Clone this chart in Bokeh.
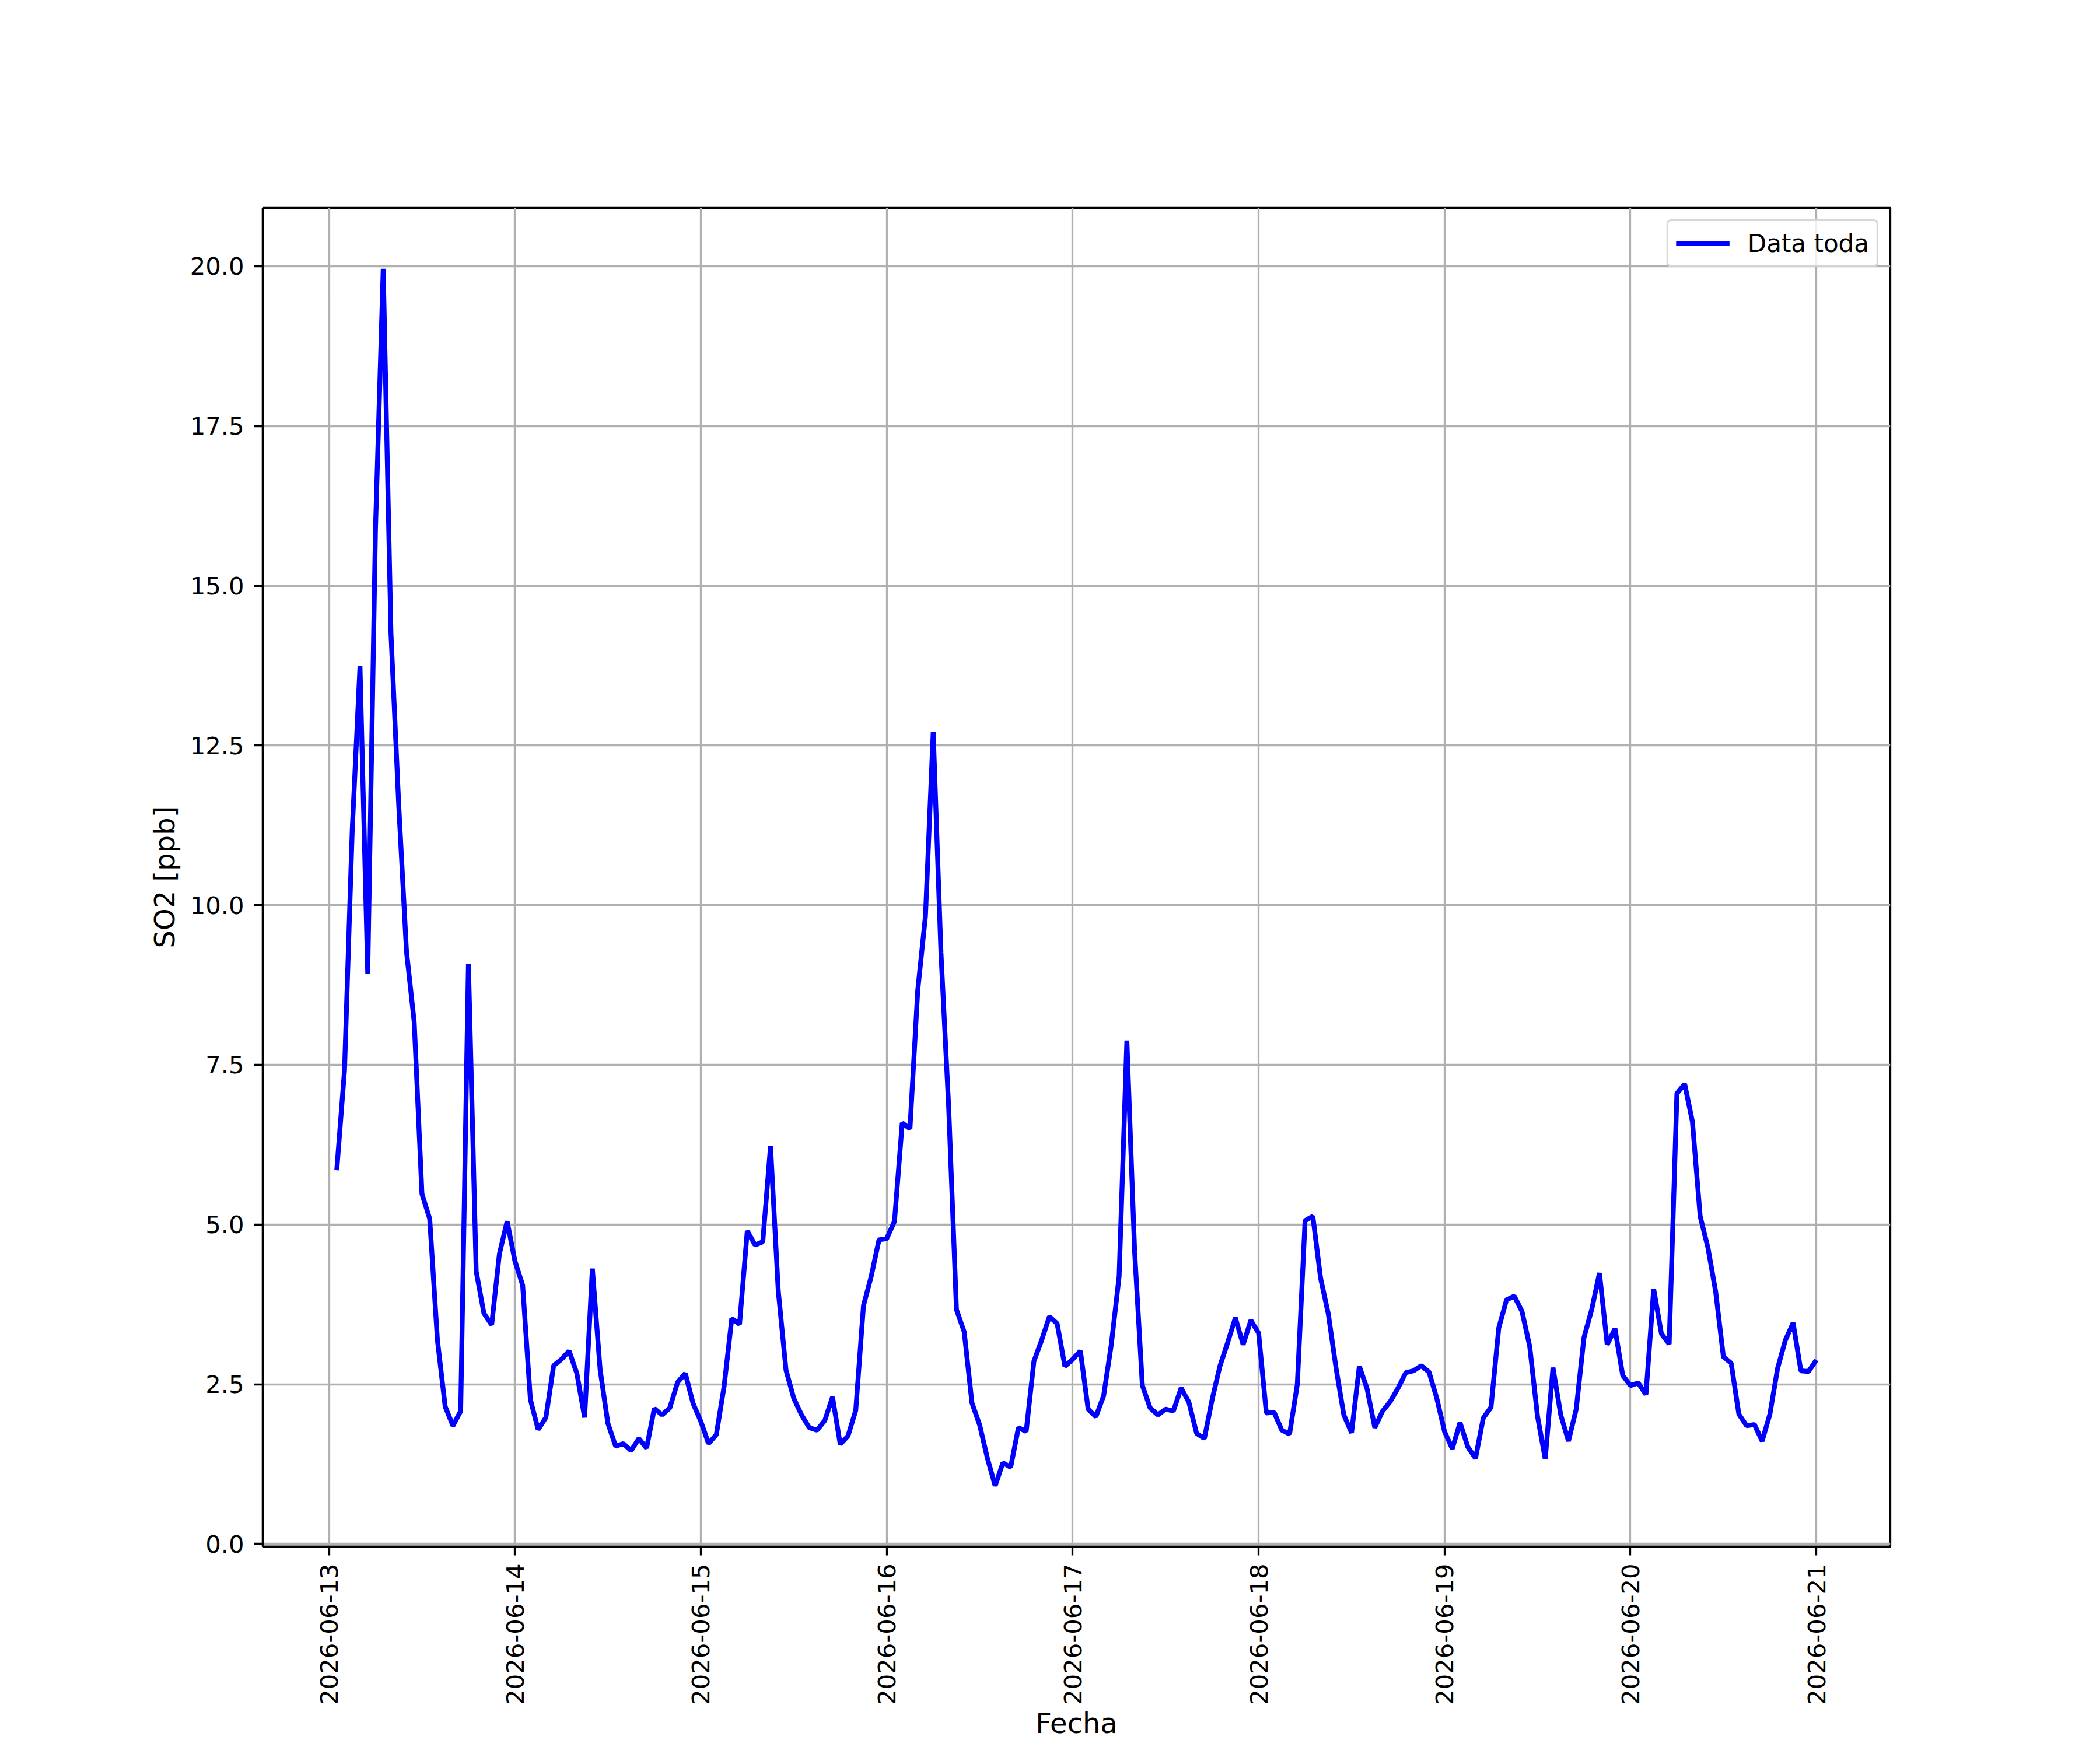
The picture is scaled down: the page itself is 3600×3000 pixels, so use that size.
import pandas as pd
from math import pi
from bokeh.plotting import figure
from bokeh.models import (Range1d, FixedTicker, PrintfTickFormatter, DatetimeTickFormatter,
                          Legend, LegendItem)
from bokeh.embed import file_html
from bokeh.resources import INLINE

# ---------------- data (hourly SO2, ppb) ----------------
start_time = "2026-06-13 01:00"
so2_0613 = [5.85, 7.41, 11.18, 13.74, 8.93, 15.89, 19.96, 14.25, 11.57, 9.28, 8.17, 5.48,
            5.09, 3.19, 2.15, 1.85, 2.08, 9.08, 4.27, 3.61, 3.43, 4.54, 5.05]
so2_0614 = [4.43, 4.05, 2.26, 1.79, 1.98, 2.79, 2.89, 3.02, 2.67, 1.98, 4.31, 2.73,
            1.89, 1.53, 1.57, 1.46, 1.65, 1.50, 2.12, 2.02, 2.13, 2.53, 2.67, 2.20]
so2_0615 = [1.92, 1.57, 1.71, 2.46, 3.53, 3.44, 4.90, 4.68, 4.73, 6.23, 3.96, 2.72,
            2.28, 2.02, 1.82, 1.78, 1.93, 2.30, 1.56, 1.69, 2.09, 3.73, 4.19, 4.76]
so2_0616 = [4.78, 5.05, 6.59, 6.50, 8.66, 9.83, 12.71, 9.26, 6.83, 3.67, 3.32, 2.21,
            1.86, 1.34, 0.91, 1.27, 1.20, 1.82, 1.76, 2.86, 3.19, 3.56, 3.45, 2.78]
so2_0617 = [2.89, 3.02, 2.11, 1.99, 2.32, 3.13, 4.19, 7.88, 4.58, 2.48, 2.13, 2.02,
            2.11, 2.08, 2.44, 2.22, 1.73, 1.65, 2.26, 2.78, 3.15, 3.54, 3.12, 3.50]
so2_0618 = [3.30, 2.05, 2.06, 1.78, 1.72, 2.50, 5.06, 5.13, 4.16, 3.60, 2.75, 2.02,
            1.74, 2.78, 2.43, 1.82, 2.08, 2.23, 2.44, 2.68, 2.71, 2.79, 2.69, 2.28]
so2_0619 = [1.76, 1.49, 1.90, 1.52, 1.34, 1.97, 2.14, 3.38, 3.82, 3.88, 3.64, 3.09,
            2.00, 1.33, 2.76, 2.02, 1.61, 2.11, 3.23, 3.67, 4.24, 3.12, 3.37, 2.64]
so2_0620 = [2.48, 2.52, 2.34, 3.99, 3.29, 3.13, 7.05, 7.20, 6.61, 5.13, 4.64, 3.95,
            2.93, 2.83, 2.03, 1.85, 1.87, 1.61, 2.03, 2.75, 3.19, 3.46, 2.71, 2.70]
so2_0621 = [2.88]

series_label = "Data toda"
x_label = "Fecha"
y_label = "SO2 [ppb]"
y_ticks = [0.0, 2.5, 5.0, 7.5, 10.0, 12.5, 15.0, 17.5, 20.0]
x_tick_days = ["2026-06-13", "2026-06-14", "2026-06-15", "2026-06-16", "2026-06-17",
               "2026-06-18", "2026-06-19", "2026-06-20", "2026-06-21"]

values = (so2_0613 + so2_0614 + so2_0615 + so2_0616 + so2_0617 + so2_0618 +
          so2_0619 + so2_0620 + so2_0621)
times = pd.date_range(start_time, periods=len(values), freq="h")
t_ms = [t.value / 1e6 for t in times]
tick_ms = [pd.Timestamp(d).value / 1e6 for d in x_tick_days]

# ---------------- layout ----------------
W, H = 3584, 2984
FL, FT = 450, 356
FR, FB = W - 3240, 328

tspan = t_ms[-1] - t_ms[0]
xs, xe = t_ms[0] - 0.05 * tspan, t_ms[-1] + 0.05 * tspan
vmin, vmax = min(values), max(values)
vspan = vmax - vmin
ylo, yhi = vmin - 0.05 * vspan, vmax + 0.05 * vspan

p = figure(width=W, height=H, x_axis_type="datetime", output_backend="svg",
           toolbar_location=None,
           x_range=Range1d(xs, xe), y_range=Range1d(ylo, yhi),
           min_border_left=FL, min_border_right=FR, min_border_top=FT, min_border_bottom=FB)
p.background_fill_color = "white"
p.border_fill_color = "white"
p.outline_line_color = "black"
p.outline_line_width = 3.3
p.outline_line_alpha = 1.0

r = p.line(x=t_ms, y=values, line_color="#0000ff", line_width=8.3)

# axes
xt = FixedTicker(ticks=tick_ms)
yt = FixedTicker(ticks=y_ticks)
p.xaxis.ticker = xt
p.yaxis.ticker = yt
p.xgrid.ticker = xt
p.ygrid.ticker = yt
fmt = "%Y-%m-%d"
p.xaxis.formatter = DatetimeTickFormatter(microseconds=fmt, milliseconds=fmt, seconds=fmt,
                                          minsec=fmt, minutes=fmt, hourmin=fmt, hours=fmt,
                                          days=fmt, months=fmt, years=fmt)
p.yaxis.formatter = PrintfTickFormatter(format="%.1f")
p.xaxis.major_label_orientation = pi / 2

for ax in (p.xaxis, p.yaxis):
    ax.axis_line_color = "black"
    ax.axis_line_width = 3.3
    ax.major_tick_line_color = "black"
    ax.major_tick_line_width = 3.3
    ax.major_tick_out = 15
    ax.major_tick_in = 0
    ax.minor_tick_line_color = None
    ax.major_label_text_font = "DejaVu Sans"
    ax.major_label_text_font_size = "41.7px"
    ax.major_label_text_color = "black"
    ax.axis_label_text_font = "DejaVu Sans"
    ax.axis_label_text_font_size = "48px"
    ax.axis_label_text_font_style = "normal"
    ax.axis_label_text_color = "black"

p.xaxis.major_label_standoff = 14
p.yaxis.major_label_standoff = 17
p.xaxis.axis_label = x_label
p.xaxis.axis_label_standoff = 0
p.yaxis.axis_label = y_label
p.yaxis.axis_label_standoff = 13

for g in (p.xgrid, p.ygrid):
    g.grid_line_color = "#b0b0b0"
    g.grid_line_width = 3.3
    g.grid_line_alpha = 1.0

# legend
legend = Legend(items=[LegendItem(label=series_label, renderers=[r])], location="top_right")
legend.margin = 20
legend.padding = 13
legend.spacing = 0
legend.glyph_width = 92
legend.glyph_height = 50
legend.label_standoff = 31
legend.label_text_font = "DejaVu Sans"
legend.label_text_font_size = "42px"
legend.label_text_color = "black"
legend.border_line_color = "#cccccc"
legend.border_line_width = 3.3
legend.border_line_alpha = 0.8
legend.background_fill_color = "white"
legend.background_fill_alpha = 0.8
try:
    legend.border_radius = 8
except Exception:
    pass
p.add_layout(legend)

open("out.html", "w").write(file_html(p, INLINE))
